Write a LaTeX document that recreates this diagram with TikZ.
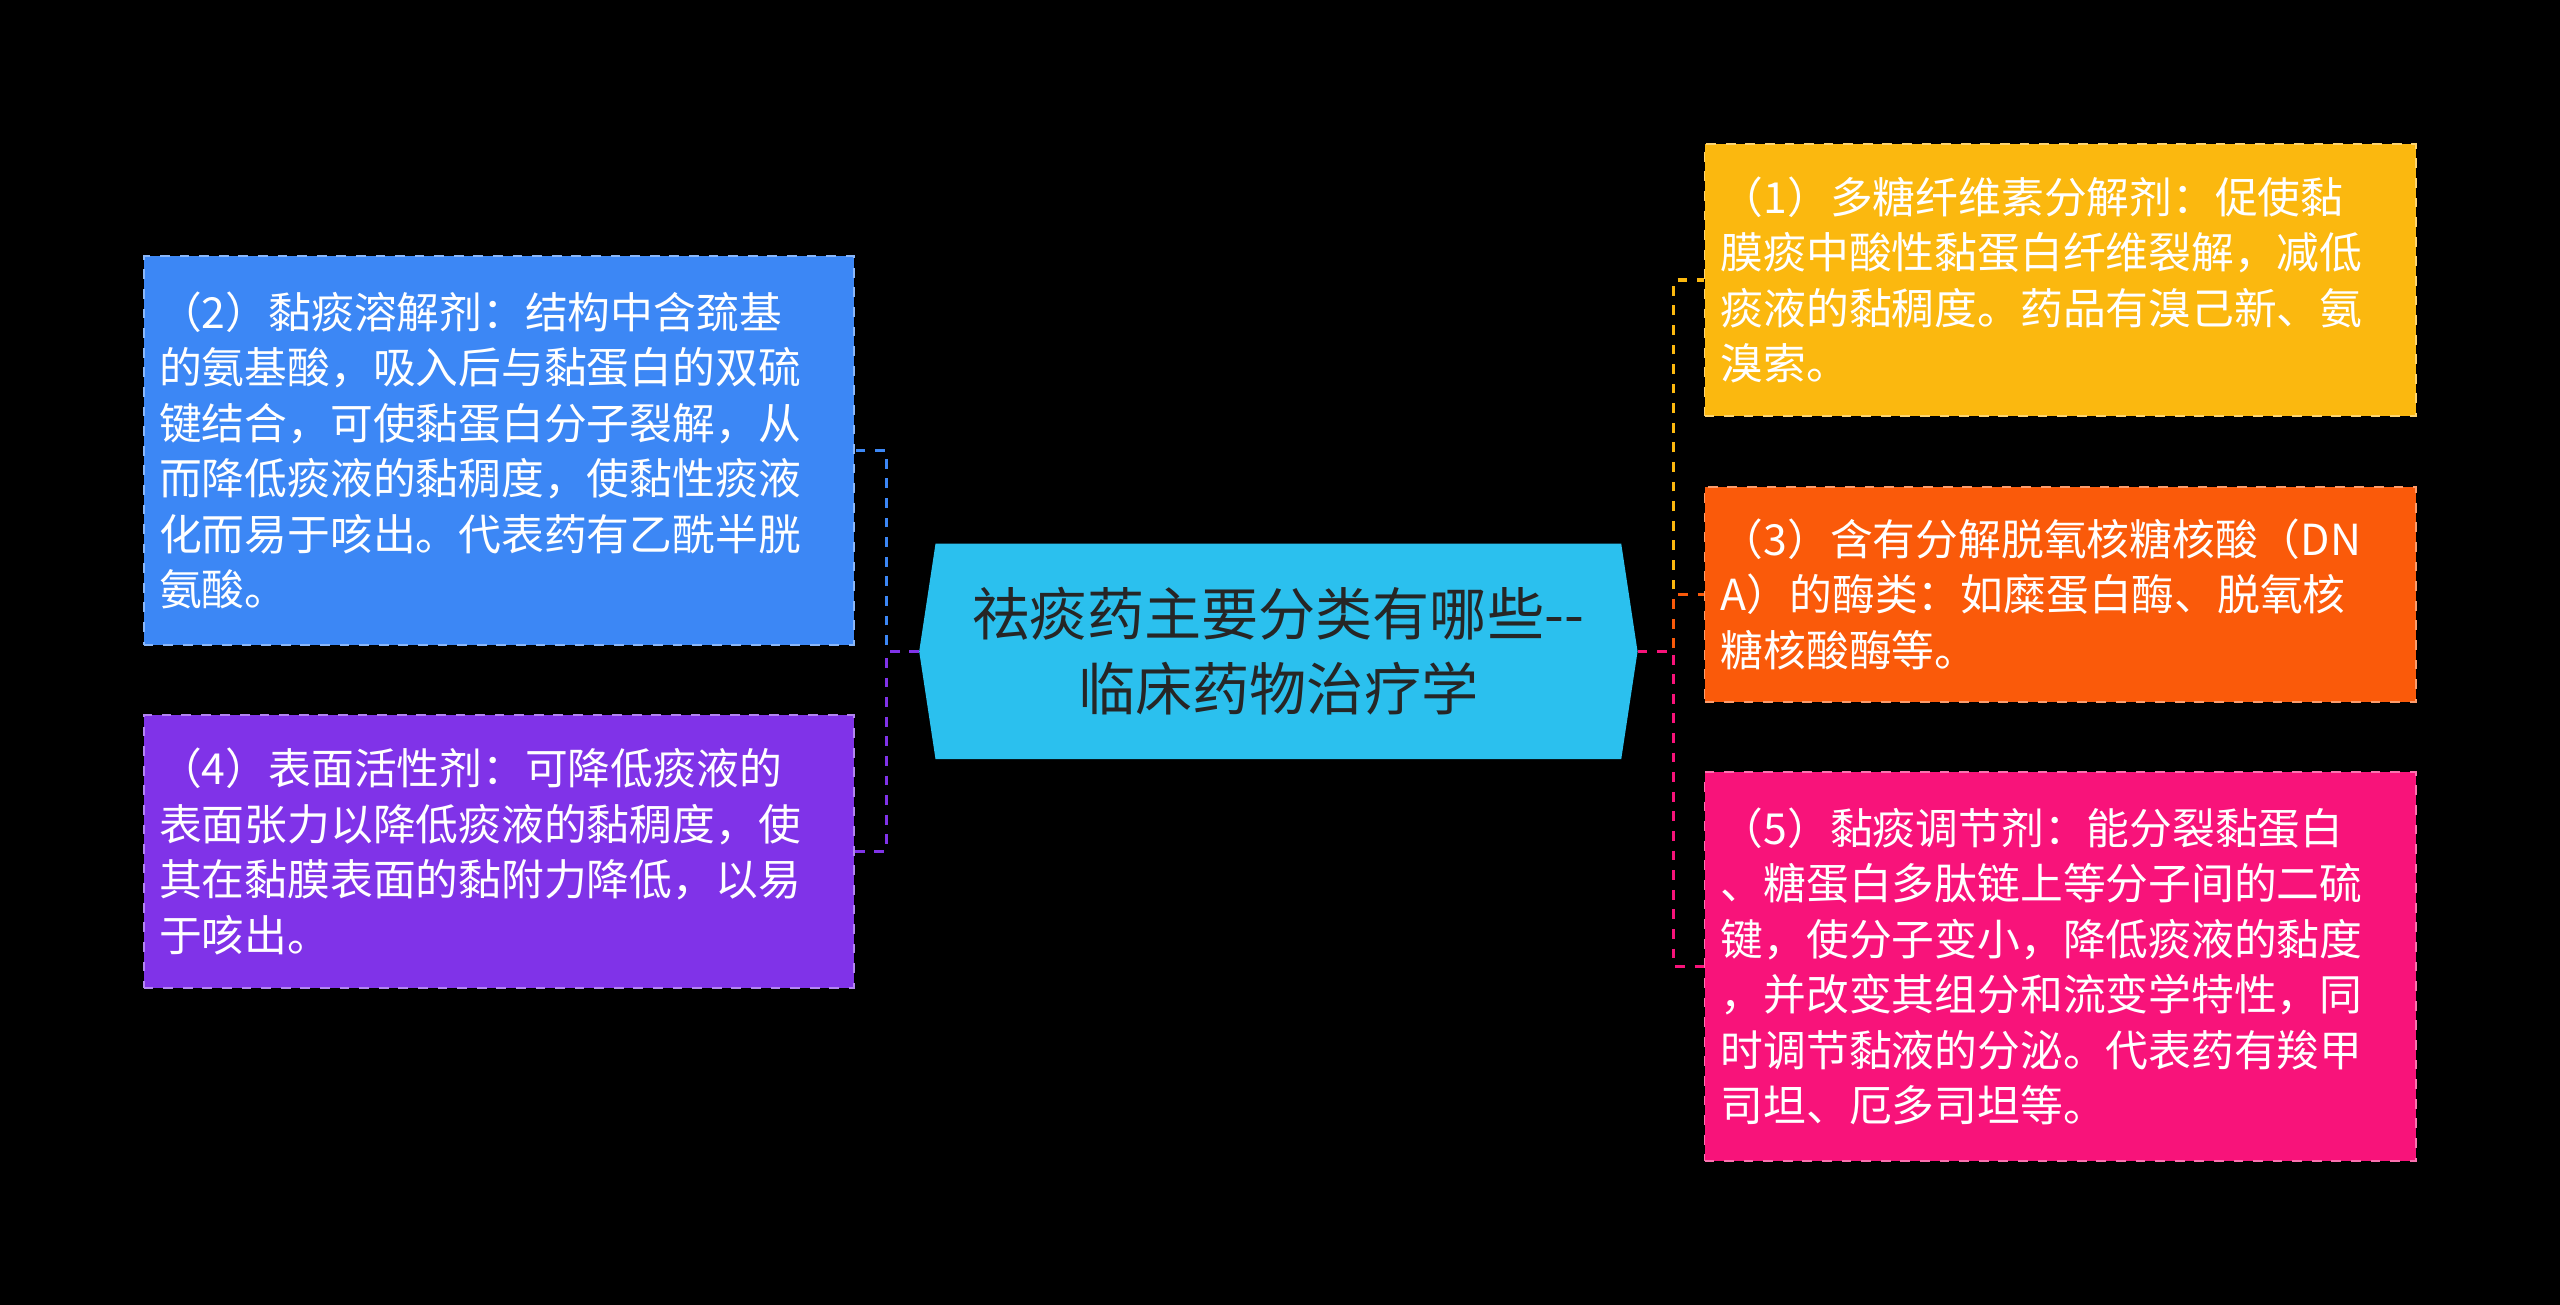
\documentclass[tikz,border=0pt]{standalone}
\usepackage{fontspec}
\setmainfont{Noto Sans CJK SC}
\begin{document}
\begin{tikzpicture}[x=0.5pt,y=-0.5pt,
 box/.style={draw=white!75!black,dashed,line width=0.6pt,text=white,align=left,text width=208pt,inner sep=0pt,font=\fontsize{13.1}{17}\selectfont},
 conn/.style={dashed,line width=1pt}]
\fill[black] (0,0) rectangle (1568,799);
\definecolor{cb}{HTML}{3C87F5}\definecolor{cp}{HTML}{8033E8}
\definecolor{cy}{HTML}{FBB80F}\definecolor{co}{HTML}{FA5A0A}
\definecolor{ck}{HTML}{F8137A}\definecolor{cc}{HTML}{2BC0EE}
\fill[cc] (573,333)--(993,333)--(1003,399)--(993,465)--(573,465)--(563,399)--cycle;
\node[font=\fontsize{17.5}{23}\selectfont,text=black!85,align=center] (c) at (783,399) {祛痰药主要分类有哪些{-}{-}\\临床药物治疗学};
\coordinate (cl) at (563,399); \coordinate (cr) at (1003,399);
\node[box,fill=cb,minimum width=217.5pt,minimum height=119pt,draw=cb!60!white] (l1) at (305.5,276) {（2）黏痰溶解剂：结构中含巯基\\的氨基酸，吸入后与黏蛋白的双硫\\键结合，可使黏蛋白分子裂解，从\\而降低痰液的黏稠度，使黏性痰液\\化而易于咳出。代表药有乙酰半胱\\氨酸。};
\node[box,fill=cp,minimum width=217.5pt,minimum height=83.5pt,draw=cp!60!white] (l2) at (305.5,521.5) {（4）表面活性剂：可降低痰液的\\表面张力以降低痰液的黏稠度，使\\其在黏膜表面的黏附力降低，以易\\于咳出。};
\node[box,fill=cy,minimum width=218pt,minimum height=83.5pt,draw=cy!60!white] (r1) at (1262,171.5) {（1）多糖纤维素分解剂：促使黏\\膜痰中酸性黏蛋白纤维裂解，减低\\痰液的黏稠度。药品有溴己新、氨\\溴索。};
\node[box,fill=co,minimum width=218pt,minimum height=66pt,draw=co!60!white] (r2) at (1262,364) {（3）含有分解脱氧核糖核酸（DN\\A）的酶类：如糜蛋白酶、脱氧核\\糖核酸酶等。};
\node[box,fill=ck,minimum width=218pt,minimum height=119pt,draw=ck!60!white] (r3) at (1262,592) {（5）黏痰调节剂：能分裂黏蛋白\\、糖蛋白多肽链上等分子间的二硫\\键，使分子变小，降低痰液的黏度\\，并改变其组分和流变学特性，同\\时调节黏液的分泌。代表药有羧甲\\司坦、厄多司坦等。};
\draw[conn,cb] (cl) -- (543,399) |- (l1.east);
\draw[conn,cp] (cl) -- (543,399) |- (l2.east);
\draw[conn,cy] (cr) -- (1025,399) |- (r1.west);
\draw[conn,co] (cr) -- (1025,399) |- (r2.west);
\draw[conn,ck] (cr) -- (1025,399) |- (r3.west);
\end{tikzpicture}
\end{document}
